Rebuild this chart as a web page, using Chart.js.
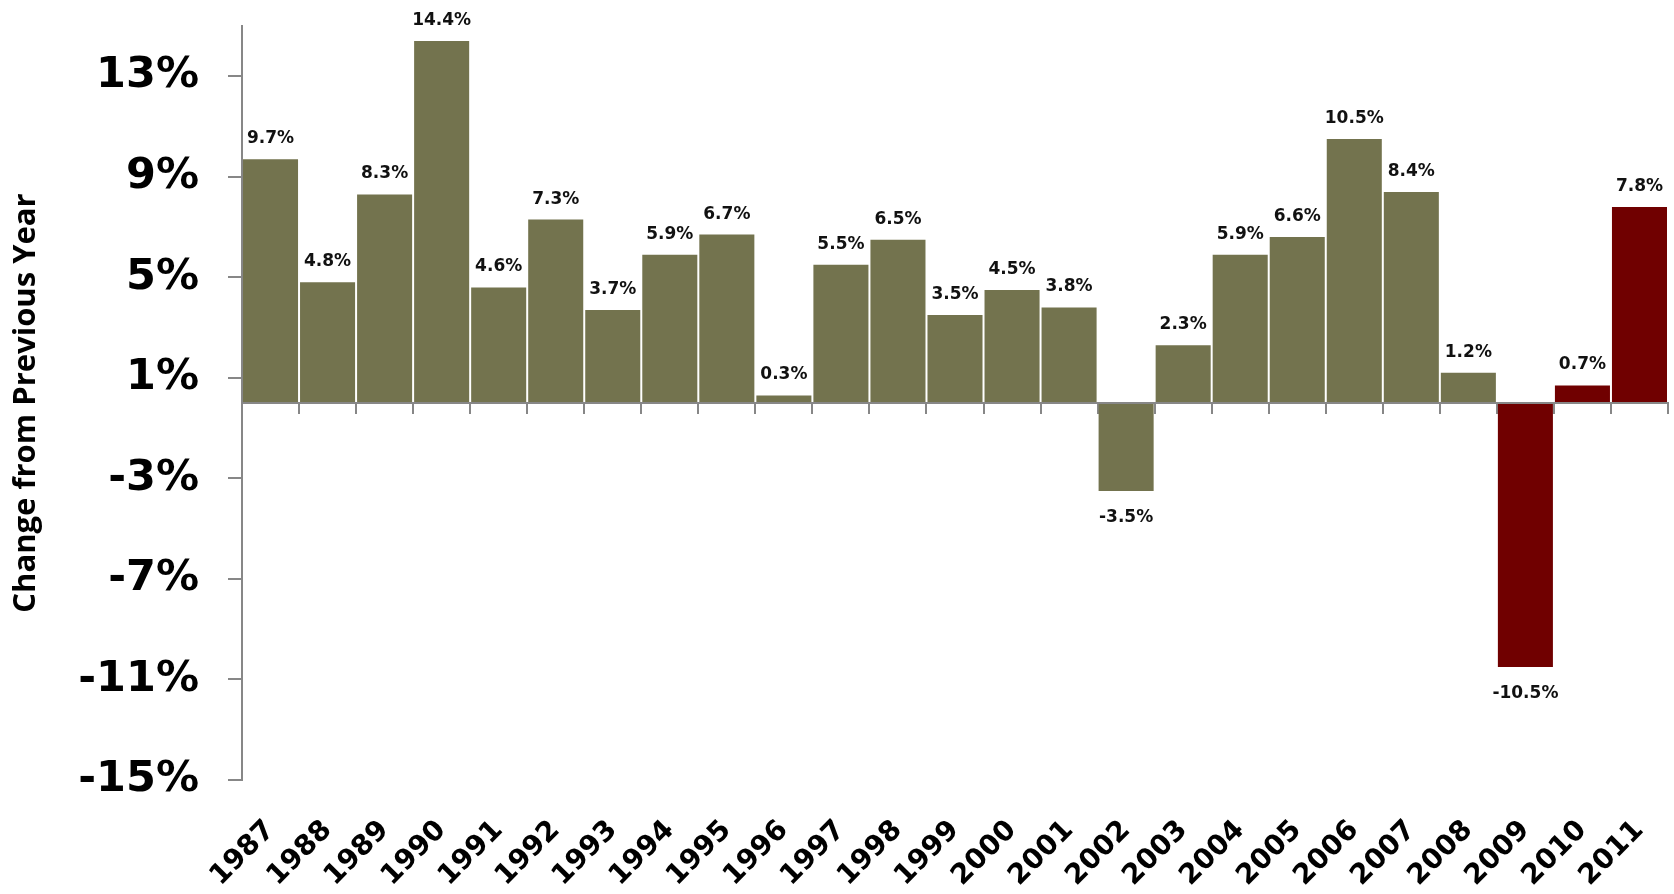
<!DOCTYPE html>
<html lang="en">

<head>
    <meta charset="utf-8" />
    <title>Change from Previous Year</title>
    <script src="https://cdn.jsdelivr.net/npm/chart.js"></script>
    <style>
        body { margin: 0; background: #fff; }
        #wrap { position: relative; width: 1674px; height: 894px; }
    </style>
</head>

<body>
    <div id="wrap">
        <canvas id="changeChart"></canvas>
    </div>

    <script>
        const years = ['1987', '1988', '1989', '1990', '1991', '1992', '1993', '1994', '1995', '1996',
            '1997', '1998', '1999', '2000', '2001', '2002', '2003', '2004', '2005', '2006',
            '2007', '2008', '2009', '2010', '2011'];
        const changes = [9.7, 4.8, 8.3, 14.4, 4.6, 7.3, 3.7, 5.9, 6.7, 0.3,
            5.5, 6.5, 3.5, 4.5, 3.8, -3.5, 2.3, 5.9, 6.6, 10.5,
            8.4, 1.2, -10.5, 0.7, 7.8];
        const highlightYears = ['2009', '2010', '2011'];
        const yTicks = [-15, -11, -7, -3, 1, 5, 9, 13];
        const yMin = -15, yMax = 15;

        const olive = '#73734e';
        const darkRed = '#700000';
        const axisGray = '#878787';

        // value labels above positive bars, below negative ones
        const valueLabels = {
            id: 'valueLabels',
            afterDatasetsDraw(chart) {
                const ctx = chart.ctx;
                const meta = chart.getDatasetMeta(0);
                ctx.save();
                ctx.font = 'bold 17px "DejaVu Sans"';
                ctx.fillStyle = '#111';
                ctx.textAlign = 'center';
                ctx.textBaseline = 'alphabetic';
                meta.data.forEach((bar, i) => {
                    const v = changes[i];
                    const y = v >= 0 ? bar.y - 16 : bar.y + 31;
                    ctx.fillText(v.toFixed(1) + '%', bar.x, y);
                });
                ctx.restore();
            }
        };

        new Chart(document.getElementById('changeChart'), {
            type: 'bar',
            data: {
                labels: years,
                datasets: [{
                    data: changes,
                    backgroundColor: years.map(y => highlightYears.includes(y) ? darkRed : olive),
                    categoryPercentage: 1,
                    barPercentage: 0.965
                }]
            },
            options: {
                responsive: true,
                maintainAspectRatio: false,
                animation: false,
                layout: { padding: { top: 26, right: 6, left: 0, bottom: 0 } },
                plugins: {
                    legend: { display: false },
                    tooltip: { enabled: false }
                },
                scales: {
                    x: {
                        position: 'bottom',
                        grid: { display: false },
                        border: { display: false },
                        ticks: {
                            autoSkip: false,
                            minRotation: 45,
                            maxRotation: 45,
                            padding: 26,
                            color: '#000',
                            font: { family: 'DejaVu Sans', weight: 'bold', size: 28 }
                        },
                        afterFit(scale) {
                            scale.height = 114;
                            scale.paddingLeft = 0;
                            scale.paddingRight = 0;
                        }
                    },
                    zero: {
                        type: 'category',
                        axis: 'x',
                        position: { y: 0 },
                        offset: true,
                        grid: {
                            offset: true,
                            drawOnChartArea: false,
                            tickLength: 10,
                            color: axisGray,
                            lineWidth: 2
                        },
                        border: { color: axisGray, width: 2, z: 1 },
                        ticks: { display: false }
                    },
                    y: {
                        min: yMin,
                        max: yMax,
                        grid: {
                            drawOnChartArea: false,
                            tickLength: 14,
                            color: axisGray,
                            lineWidth: 2
                        },
                        border: { color: axisGray, width: 2 },
                        ticks: {
                            padding: 29,
                            color: '#000',
                            font: { family: 'DejaVu Sans', weight: 'bold', size: 43 },
                            callback: v => v + '%'
                        },
                        afterBuildTicks(scale) {
                            scale.ticks = yTicks.map(v => ({ value: v }));
                        },
                        title: {
                            display: true,
                            text: 'Change from Previous Year',
                            color: '#000',
                            padding: { top: 8 },
                            font: { family: 'Open Sans', weight: 'bold', size: 31 }
                        },
                        afterFit(scale) {
                            scale.width = 242;
                            scale.paddingTop = 0;
                            scale.paddingBottom = 0;
                        }
                    }
                }
            },
            plugins: [valueLabels]
        });
    </script>
</body>

</html>
